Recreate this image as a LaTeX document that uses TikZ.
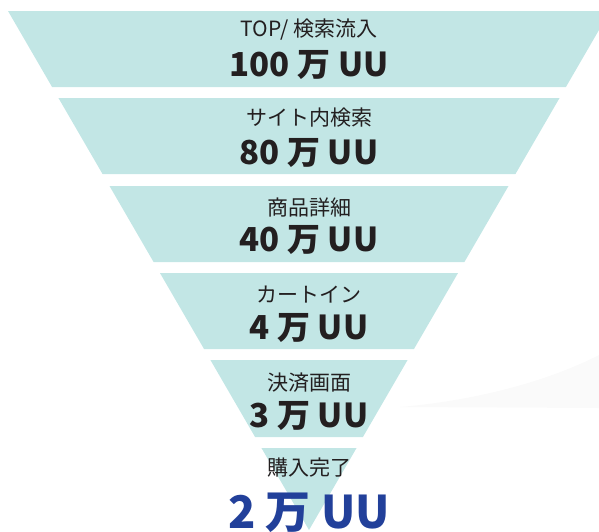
\documentclass[tikz,border=0pt]{standalone}
\usepackage{fontspec}
\setmainfont{Noto Sans CJK JP}
\usepackage{tikz}
\usetikzlibrary{positioning}
\definecolor{funnelteal}{HTML}{C2E6E5}
\definecolor{textgray}{HTML}{231F20}
\definecolor{goalblue}{HTML}{22409A}
\tikzset{
    x=1pt, y=-1pt, % one unit is one pixel of the page
    band/.style={fill=funnelteal}, % sets the look of each funnel band
    steplabel/.style={text=textgray, font=\fontsize{21}{23}\selectfont, inner sep=0pt},
    stepcount/.style={text=textgray, font=\fontsize{33}{36}\selectfont\bfseries, inner sep=0pt},
    goalcount/.style={text=goalblue, font=\fontsize{45}{48}\selectfont\bfseries, inner sep=0pt},
}

\begin{document}
\begin{tikzpicture}
        \useasboundingbox (0,0) rectangle (599,531);
        \clip (0,0) rectangle (599,531);
        % faint shade at the lower right
        \fill[black!2] (400,407) .. controls (480,400) and (550,380) .. (599,355) -- (599,408) -- cycle;
        % funnel bands, all on one triangle with its axis at x=309
        \foreach \t/\b in {11/87, 98/174, 186/262, 273/349, 360/437, 448/530}{
            \pgfmathsetmacro{\wt}{301-0.58*(\t-11)}
            \pgfmathsetmacro{\wb}{max(0,301-0.58*(\b-11))}
            \fill[band] (309-\wt,\t) -- (309+\wt,\t) -- (309+\wb,\b) -- (309-\wb,\b) -- cycle;
        }
        \node[steplabel] (top) at (309,30) {TOP/ 検索流入};
        \node[stepcount] (topuu) at (309,65) {100 万 UU};
        \node[steplabel] (site) at (309,118) {サイト内検索};
        \node[stepcount] (siteuu) at (309,153) {80 万 UU};
        \node[steplabel] (item) at (309,207) {商品詳細};
        \node[stepcount] (itemuu) at (309,240) {40 万 UU};
        \node[steplabel] (cart) at (309,295) {カートイン};
        \node[stepcount] (cartuu) at (309,328) {4 万 UU};
        \node[steplabel] (pay) at (309,383) {決済画面};
        \node[stepcount] (payuu) at (309,416) {3 万 UU};
        \node[steplabel] (done) at (309,468) {購入完了};
        \node[goalcount] (doneuu) at (309,513) {2 万 UU};
    \end{tikzpicture}
\end{document}
